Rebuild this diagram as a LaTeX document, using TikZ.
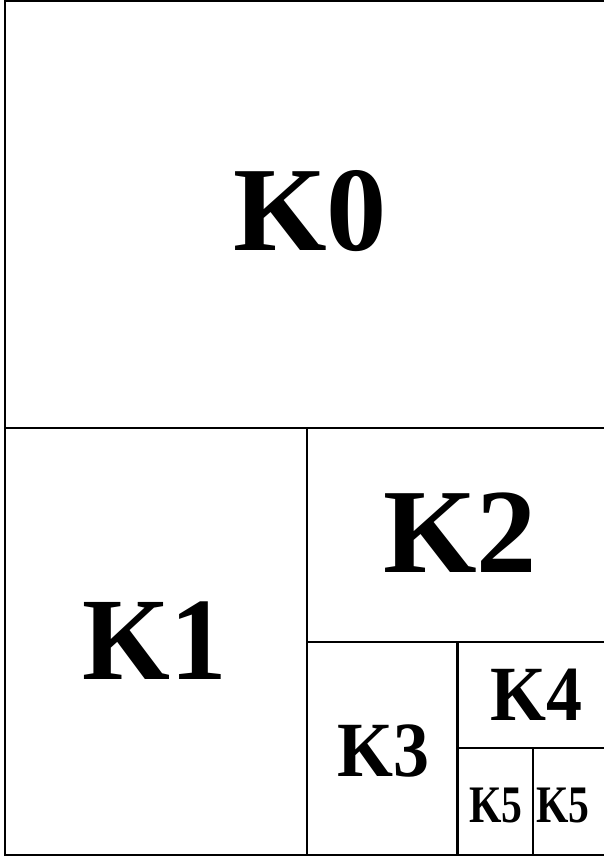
\documentclass[tikz,border=0pt]{standalone}
\usepackage{fontspec}
\setmainfont{Liberation Serif}
\usetikzlibrary{positioning}
\tikzset{
  sheet/.style={draw=black,line width=1.35pt},
  lbl/.style={inner sep=0pt,font=\bfseries}
}
\newcommand{\squeeze}[2]{\scalebox{#1}[1]{#2}}

\begin{document}
\begin{tikzpicture}[x=0.02cm,y=-0.02cm]
\useasboundingbox (0,0) rectangle (604,859);
% outer frame (right side runs off the page)
\draw[sheet] (604,1) -- (5,1) -- (5,855) -- (604,855);
% cuts
\draw[sheet] (5,428) -- (604,428);
\draw[sheet] (307,428) -- (307,855);
\draw[sheet] (307,642) -- (604,642);
\draw[sheet] (457.5,642) -- (457.5,855);
\draw[sheet] (457.5,748) -- (604,748);
\draw[sheet] (533,748) -- (533,855);
% labels
\node[lbl,font=\fontsize{68.5}{68.5}\selectfont\bfseries] (k0) at (310,211) {K0};
\node[lbl,font=\fontsize{67}{67}\selectfont\bfseries] (k1) at (155,641) {\squeeze{0.96}{K1}};
\node[lbl,font=\fontsize{68.5}{68.5}\selectfont\bfseries] (k2) at (460,532.5) {K2};
\node[lbl,font=\fontsize{44.5}{44.5}\selectfont\bfseries] (k3) at (383,751) {\squeeze{0.92}{K3}};
\node[lbl,font=\fontsize{44.5}{44.5}\selectfont\bfseries] (k4) at (536,695) {\squeeze{0.92}{K4}};
\node[lbl,font=\fontsize{30}{30}\selectfont\bfseries] (k5a) at (496,805) {\squeeze{0.79}{K5}};
\node[lbl,font=\fontsize{30}{30}\selectfont\bfseries] (k5b) at (563,805) {\squeeze{0.79}{K5}};
\end{tikzpicture}
\end{document}
